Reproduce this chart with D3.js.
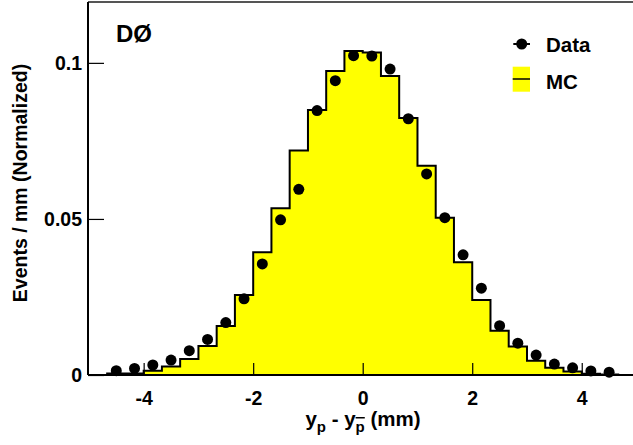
<!DOCTYPE html>
<html>
<head>
<meta charset="utf-8">
<script src="https://cdn.jsdelivr.net/npm/d3@7/dist/d3.min.js"></script>
<style>
  html, body { margin: 0; padding: 0; background: #fff; }
  svg { display: block; }
  text { font-family: "Liberation Sans", Arial, Helvetica, sans-serif; font-weight: bold; fill: #000; }
</style>
</head>
<body>
<script>
// ---- data ----
const mcCenters = [-4.833, -4.5, -4.167, -3.833, -3.5, -3.167, -2.833, -2.5, -2.167, -1.833,
                   -1.5, -1.167, -0.833, -0.5, -0.167, 0.167, 0.5, 0.833, 1.167, 1.5,
                   1.833, 2.167, 2.5, 2.833, 3.167, 3.5, 3.833, 4.167, 4.5, 4.833];
const mcValues = [0.0000, 0.0005, 0.0005, 0.0014, 0.0027, 0.0051, 0.0093, 0.0157, 0.0256, 0.0393,
                  0.0534, 0.0719, 0.0849, 0.0974, 0.1038, 0.1033, 0.0958, 0.0823, 0.0670, 0.0504,
                  0.0361, 0.0240, 0.0142, 0.0091, 0.0046, 0.0023, 0.0011, 0.0004, 0.0002, 0.0000];
const binWidth = 1 / 3;
const dataX = [-4.5, -4.167, -3.833, -3.5, -3.167, -2.833, -2.5, -2.167, -1.833, -1.5,
               -1.167, -0.833, -0.5, -0.167, 0.167, 0.5, 0.833, 1.167, 1.5, 1.833,
               2.167, 2.5, 2.833, 3.167, 3.5, 3.833, 4.167, 4.5];
const dataY = [0.0014, 0.0021, 0.0032, 0.0048, 0.0078, 0.0114, 0.0168, 0.0244, 0.0356, 0.0497,
               0.0595, 0.0847, 0.0943, 0.1023, 0.1022, 0.0980, 0.0821, 0.0644, 0.0504, 0.0385,
               0.0278, 0.0158, 0.0102, 0.0064, 0.0035, 0.0023, 0.0013, 0.0009];
const xTicks = [-4, -2, 0, 2, 4];
const yTicks = [0, 0.05, 0.1];
const yTickLabels = ["0", "0.05", "0.1"];
const legendLabels = ["Data", "MC"];

// ---- layout ----
const W = 633, H = 445;
const FONT = "Liberation Sans, Arial, sans-serif";
const svg = d3.select("body").append("svg").attr("width", W).attr("height", H);

const x = d3.scaleLinear().domain([-5, 5]).range([88.9, 636.5]);
const y = d3.scaleLinear().domain([0, 0.1195]).range([375, 2]);

// histogram step path
const steps = [];
mcCenters.forEach((c, i) => {
  steps.push({ x: c - binWidth / 2, v: mcValues[i] });
});
steps.push({ x: mcCenters[mcCenters.length - 1] + binWidth / 2, v: 0 });

const area = d3.area().curve(d3.curveStepAfter)
  .x(d => x(d.x)).y0(y(0)).y1(d => y(d.v));
const line = d3.line().curve(d3.curveStepAfter)
  .x(d => x(d.x)).y(d => y(d.v));

svg.append("path").datum(steps).attr("d", area).attr("fill", "#ffff00").attr("stroke", "none");
svg.append("path").datum(steps).attr("d", line).attr("fill", "none")
  .attr("stroke", "#000").attr("stroke-width", 2);

// frame
svg.append("line").attr("x1", 88).attr("x2", W).attr("y1", 2).attr("y2", 2)
  .attr("stroke", "#555").attr("stroke-width", 2);

// axes
const xAxis = d3.axisBottom(x).tickValues(xTicks).tickSizeInner(-12).tickSizeOuter(0)
  .tickPadding(16).tickFormat(d3.format("d"));
const gx = svg.append("g").attr("transform", `translate(0,${y(0)})`).call(xAxis);
gx.select(".domain").attr("stroke", "#000").attr("stroke-width", 2).attr("d", `M88,0H${W}`);
gx.selectAll(".tick line").attr("stroke", "#000").attr("stroke-width", 1.2);
gx.selectAll(".tick text").attr("font-size", 19.5).attr("font-family", FONT)
  .attr("font-weight", "bold").attr("fill", "#000")
  .text(d => d < 0 ? "-" + Math.abs(d) : String(d));

const yAxis = d3.axisLeft(y).tickValues(yTicks).tickSizeInner(-16).tickSizeOuter(0)
  .tickPadding(6).tickFormat((d, i) => yTickLabels[i]);
const gy = svg.append("g").attr("transform", `translate(88,0)`).call(yAxis);
gy.select(".domain").attr("stroke", "#000").attr("stroke-width", 2).attr("d", "M0,2V375");
gy.selectAll(".tick line").attr("stroke", "#000").attr("stroke-width", 1.2);
gy.selectAll(".tick text").attr("font-size", 19.5).attr("font-family", FONT)
  .attr("font-weight", "bold").attr("fill", "#000").attr("x", -6);

// data points
const pts = svg.append("g");
dataX.forEach((dx, i) => {
  pts.append("circle").attr("cx", x(dx)).attr("cy", y(dataY[i])).attr("r", 5.5).attr("fill", "#000");
});

// DØ label
svg.append("text").attr("x", 116).attr("y", 42).attr("font-size", 24).text("DØ");

// legend
const lg = svg.append("g");
lg.append("line").attr("x1", 513.3).attr("x2", 530).attr("y1", 44).attr("y2", 44)
  .attr("stroke", "#000").attr("stroke-width", 2);
lg.append("circle").attr("cx", 521.7).attr("cy", 44).attr("r", 5.5).attr("fill", "#000");
lg.append("text").attr("x", 546).attr("y", 51.5).attr("font-size", 20.5).text(legendLabels[0]);
lg.append("rect").attr("x", 512.7).attr("y", 66.7).attr("width", 17.3).attr("height", 25).attr("fill", "#ffff00");
lg.append("line").attr("x1", 512.7).attr("x2", 530).attr("y1", 79).attr("y2", 79)
  .attr("stroke", "#000").attr("stroke-width", 1.5);
lg.append("text").attr("x", 546).attr("y", 88.5).attr("font-size", 20.5).text(legendLabels[1]);

// axis titles
svg.append("text").attr("transform", "translate(27,183) rotate(-90)")
  .attr("text-anchor", "middle").attr("font-size", 19.5).text("Events / mm (Normalized)");

const xt = svg.append("text").attr("x", 363).attr("y", 426).attr("text-anchor", "middle").attr("font-size", 20.5);
xt.append("tspan").text("y");
xt.append("tspan").attr("font-size", 15).attr("dy", 6).text("p");
xt.append("tspan").attr("dy", -6).text(" - y");
xt.append("tspan").attr("font-size", 15).attr("dy", 6)
  .attr("text-decoration", "overline").text("p");
xt.append("tspan").attr("dy", -6).text(" (mm)");
</script>
</body>
</html>
